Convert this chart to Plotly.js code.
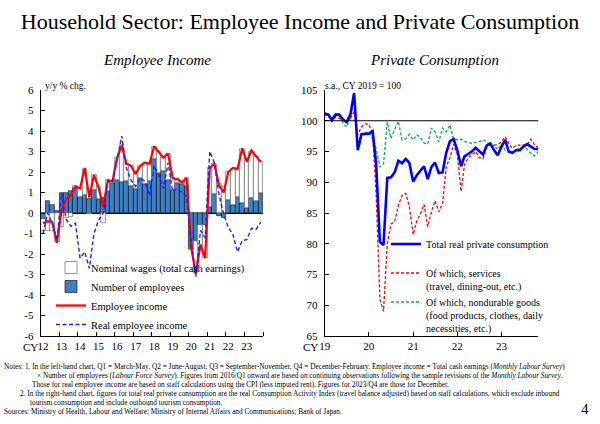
<!DOCTYPE html>
<html><head><meta charset="utf-8">
<script src="https://cdn.plot.ly/plotly-3.0.1.min.js"></script>
<style>html,body{margin:0;padding:0;background:#fff}#chart{width:600px;height:424px}</style>
</head><body><div id="chart"></div>
<script>
// ---------- Left chart: Employee Income (y/y % chg., quarterly 2012/Q1 - 2023/Q4) ----------
const years = [2012,2013,2014,2015,2016,2017,2018,2019,2020,2021,2022,2023];
const yearTickLabels = ['12','13','14','15','16','17','18','19','20','21','22','23'];
const incomeTickValues = [-6,-5,-4,-3,-2,-1,0,1,2,3,4,5,6];
const incomeTickLabels = ['-6','-5','-4','-3','-2','-1','0','1','2','3','4','5','6'];
const quarterLabels = [];
years.forEach(y => ['Q1','Q2','Q3','Q4'].forEach(q => quarterLabels.push(y + '/' + q)));

const numberOfEmployees = [-0.3,0.6,0.4,0.1, 1.0,1.0,1.08,1.2, 0.8,0.87,0.7,1.13, 0.7,0.75,1.05,1.45,
  1.6,1.5,1.55,1.3, 1.15,1.7,1.4,1.55, 2.62,1.95,2.05,1.6, 1.12,1.45,1.4,1.3,
  -1.75,-1.35,-0.6,-0.6, 0.3,0.95,-0.15,-0.25, 0.65,0.4,0.8,0.5, 0.25,0.75,0.6,1.0];
const nominalWages = [-0.6,-0.9,-0.9,-1.4, -0.7,-0.25,-0.2,0.1, 0.4,1.3,-0.05,0.7, 0.55,-0.5,0.55,0.1,
  1.1,1.8,0.85,1.0, 0.75,0.6,1.05,0.85, 0.6,1.05,0.65,1.3, 0.58,0.2,0.1,0.4,
  -0.05,-1.6,-0.95,-1.6, 1.9,1.45,1.4,1.25, 1.35,1.75,1.35,2.6, 2.35,2.25,2.15,1.5];
const employeeIncome = [-0.5,-0.4,-0.45,-1.45, 0.1,0.7,0.85,1.3, 1.2,2.2,0.75,1.85, 1.25,0.3,1.6,1.55,
  2.7,3.3,2.4,2.3, 1.9,2.3,2.45,2.4, 3.25,3.0,2.7,2.9, 1.7,1.65,1.5,1.7,
  -1.7,-2.95,-1.55,-2.2, 2.2,2.4,1.35,1.0, 2.0,2.2,2.15,3.15, 2.5,3.05,2.75,2.5];
const realEmployeeIncome = [-1.0,0.0,-0.5,-1.35, 0.95,-0.3,-0.65,-0.5, -2.2,-1.9,-2.7,-1.0, -0.35,0.0,1.55,1.5,
  2.6,3.75,2.2,1.6, 1.3,1.7,1.55,0.85, 2.3,1.85,1.2,2.45, 1.05,1.2,1.0,0.8,
  -1.45,-3.1,-0.85,-1.2, 3.0,2.45,0.9,-0.05, -0.7,-1.05,-1.9,-1.35, -1.3,-0.75,-0.8,-0.45];

// ---------- Right chart: Private Consumption (s.a., CY2019 = 100, monthly 2019/1 - 2023/11) ----------
const consumptionTickLabels = ['19','20','21','22','23'];
const totalConsumption = [101.2,101.0,100.1,101.0,101.0,100.2,99.8,101.0,104.5,95.2,
  97.8,97.9,97.9,98.3,93.0,80.3,79.8,90.7,90.8,91.6,
  93.5,93.1,93.8,93.1,90.1,91.2,91.9,92.6,90.5,92.5,
  93.2,91.5,91.6,94.8,96.7,97.0,95.2,92.6,94.2,94.6,
  95.0,95.6,95.0,94.5,96.0,96.3,95.2,94.4,95.8,96.9,
  95.0,94.8,95.2,95.2,95.8,96.2,95.8,95.4,95.4];
const servicesConsumption = [100.8,101.0,99.9,100.6,100.4,100.0,99.7,100.3,101.5,97.7,
  99.0,99.5,99.4,97.9,88.0,71.0,69.0,80.0,83.2,83.6,
  86.3,87.8,88.2,86.0,81.5,83.8,84.8,86.4,82.8,85.2,
  87.0,85.2,86.5,92.5,94.0,96.2,94.5,88.5,92.8,94.0,
  94.4,95.0,94.0,93.8,95.7,96.0,96.0,96.1,96.6,97.4,
  96.3,95.5,96.0,96.0,96.1,96.1,97.0,96.1,95.6];
const nondurablesConsumption = [101.2,100.6,100.4,101.2,100.9,99.6,99.0,100.6,103.6,96.0,
  97.9,98.0,98.2,97.1,95.5,92.5,93.0,99.8,97.1,98.6,
  99.9,96.9,97.1,97.8,96.9,97.7,97.3,96.4,96.2,98.8,
  98.2,96.6,98.8,98.2,99.3,97.0,96.9,97.0,96.6,96.5,
  96.3,96.5,96.6,96.9,96.6,96.0,96.0,95.3,96.2,95.2,
  94.9,94.8,95.2,95.6,95.7,95.4,94.7,94.3,95.0];

// ---------- build ----------
const qx = quarterLabels.map((_, i) => i);
const yearTickVals = years.map((_, k) => k * 4);
const months = totalConsumption.map((_, k) => {
  const y = 2019 + Math.floor(k / 12), m = (k % 12) + 1;
  return y + '-' + String(m).padStart(2, '0') + '-01';
});
const monthTickVals = consumptionTickLabels.map((_, k) => (2019 + k) + '-01-01');

const serif = '"Liberation Serif", "Times New Roman", Times, serif';

const traces = [
  {type:'bar', x:qx, y:numberOfEmployees, name:'Number of employees', legendrank:2,
   marker:{color:'#3f7fc5', line:{color:'#000', width:0.6}}, xaxis:'x', yaxis:'y', legend:'legend', text:quarterLabels, textposition:'none', hoverinfo:'text+y'},
  {type:'bar', x:qx, y:nominalWages, name:'Nominal wages (total cash earnings)', legendrank:1,
   marker:{color:'#ffffff', line:{color:'#555', width:0.6}}, xaxis:'x', yaxis:'y', legend:'legend', text:quarterLabels, textposition:'none', hoverinfo:'text+y'},
  {type:'scatter', mode:'lines', x:qx, y:employeeIncome, name:'Employee income', legendrank:3,
   line:{color:'#ff0000', width:2.2}, xaxis:'x', yaxis:'y', legend:'legend'},
  {type:'scatter', mode:'lines', x:qx, y:realEmployeeIncome, name:'Real employee income', legendrank:4,
   line:{color:'#1f1fff', width:1.4, dash:'4px,2.5px'}, xaxis:'x', yaxis:'y', legend:'legend'},

  {type:'scatter', mode:'lines', x:months, y:nondurablesConsumption, legendrank:3,
   name:'Of which, nondurable goods<br>(food products, clothes, daily<br>necessities, etc.)',
   line:{color:'#00b050', width:1.3, dash:'3px,2px'}, xaxis:'x2', yaxis:'y2', legend:'legend2'},
  {type:'scatter', mode:'lines', x:months, y:servicesConsumption, legendrank:2,
   name:'Of which, services<br>(travel, dining-out, etc.)',
   line:{color:'#ff0000', width:1.3, dash:'3px,2px'}, xaxis:'x2', yaxis:'y2', legend:'legend2'},
  {type:'scatter', mode:'lines', x:months, y:totalConsumption, legendrank:1,
   name:'Total real private consumption<br> ',
   line:{color:'#0000ff', width:2.6}, xaxis:'x2', yaxis:'y2', legend:'legend2'}
];

const axisCommon = {showline:true, linecolor:'#000', linewidth:1, showgrid:false, ticks:'inside',
  ticklen:4, tickcolor:'#000', tickfont:{size:11, family:serif}};

const W = 600, H = 424;
const px = v => v / W, py = v => 1 - v / H;

function note(text, x, y) {
  return {text, x:px(x), y:py(y), xref:'paper', yref:'paper', xanchor:'left', yanchor:'middle',
    showarrow:false, font:{size:7.3, family:serif}};
}
function label(text, x, y, size, anchor) {
  return {text, x:px(x), y:py(y), xref:'paper', yref:'paper', xanchor:anchor || 'center', yanchor:'middle',
    showarrow:false, font:{size, family:serif}};
}

const layout = {
  width:W, height:H, margin:{l:0, r:0, t:0, b:0},
  paper_bgcolor:'#fff', plot_bgcolor:'rgba(0,0,0,0)',
  font:{family:serif, color:'#000', size:11},
  barmode:'relative', bargap:0, showlegend:true,
  title:{text:'Household Sector: Employee Income and Private Consumption', x:0.5, xanchor:'center',
    y:py(21), yanchor:'middle', font:{size:22, family:serif}},
  xaxis:Object.assign({}, axisCommon, {domain:[px(40.7), px(263)], range:[-0.5, 47.5], anchor:'y',
    tickmode:'array', tickvals:yearTickVals, ticktext:yearTickLabels, ticks:'',
    minor:{tickmode:'linear', tick0:-0.5, dtick:4, ticks:'inside', ticklen:4, tickcolor:'#000'}}),
  yaxis:Object.assign({}, axisCommon, {domain:[1 - 336/H, 1 - 90/H], range:[-6, 6], anchor:'x',
    tickmode:'array', tickvals:incomeTickValues, ticktext:incomeTickLabels, ticklabelstandoff:4,
    zeroline:true, zerolinecolor:'#000', zerolinewidth:1}),
  xaxis2:Object.assign({}, axisCommon, {domain:[px(324.7), px(538.3)], type:'date', anchor:'y2',
    range:['2019-01-01', '2023-11-01'], tickmode:'array', tickvals:monthTickVals, ticktext:consumptionTickLabels}),
  yaxis2:Object.assign({}, axisCommon, {domain:[1 - 336/H, 1 - 90/H], range:[65, 105], dtick:5, anchor:'x2',
    ticklabelstandoff:4, zeroline:false}),
  legend:{x:px(51), y:py(253), xanchor:'left', yanchor:'top', bgcolor:'rgba(0,0,0,0)',
    font:{size:10.5, family:serif}, traceorder:'normal', itemwidth:30},
  legend2:{x:px(386), y:py(231), xanchor:'left', yanchor:'top', bgcolor:'rgba(0,0,0,0)',
    font:{size:10, family:serif}, traceorder:'normal', valign:'top', itemwidth:30},
  shapes:[{type:'line', xref:'x2 domain', x0:0, x1:1, yref:'y2', y0:100, y1:100, line:{color:'#000', width:1}}],
  annotations:[
    label('<i>Employee Income</i>', 157, 60, 15),
    label('<i>Private Consumption</i>', 434, 60, 15),
    label('y/y % chg.', 43, 86, 9.5, 'left'),
    label('s.a., CY 2019 = 100', 323, 86, 9.5, 'left'),
    label('CY', 30, 347, 11),
    label('CY', 310, 347, 11),
    note('Notes: 1. In the left-hand chart, Q1 = March-May, Q2 = June-August, Q3 = September-November, Q4 = December-February. Employee income = Total cash earnings (<i>Monthly Labour Survey</i>)', 2, 366),
    note('× Number of employees (<i>Labour Force Survey</i>). Figures from 2016/Q1 onward are based on continuing observations following the sample revisions of the <i>Monthly Labour Survey</i>.', 35, 375),
    note('Those for real employee income are based on staff calculations using the CPI (less imputed rent). Figures for 2023/Q4 are those for December.', 30, 384),
    note('2. In the right-hand chart, figures for total real private consumption are the real Consumption Activity Index (travel balance adjusted) based on staff calculations, which exclude inbound', 18, 393),
    note('tourism consumption and include outbound tourism consumption.', 28, 402),
    note('Sources: Ministry of Health, Labour and Welfare; Ministry of Internal Affairs and Communications; Bank of Japan.', 2, 411),
    label('4', 585, 409, 15)
  ]
};

Plotly.newPlot('chart', traces, layout, {displayModeBar:false, responsive:false});
</script>
</body></html>
